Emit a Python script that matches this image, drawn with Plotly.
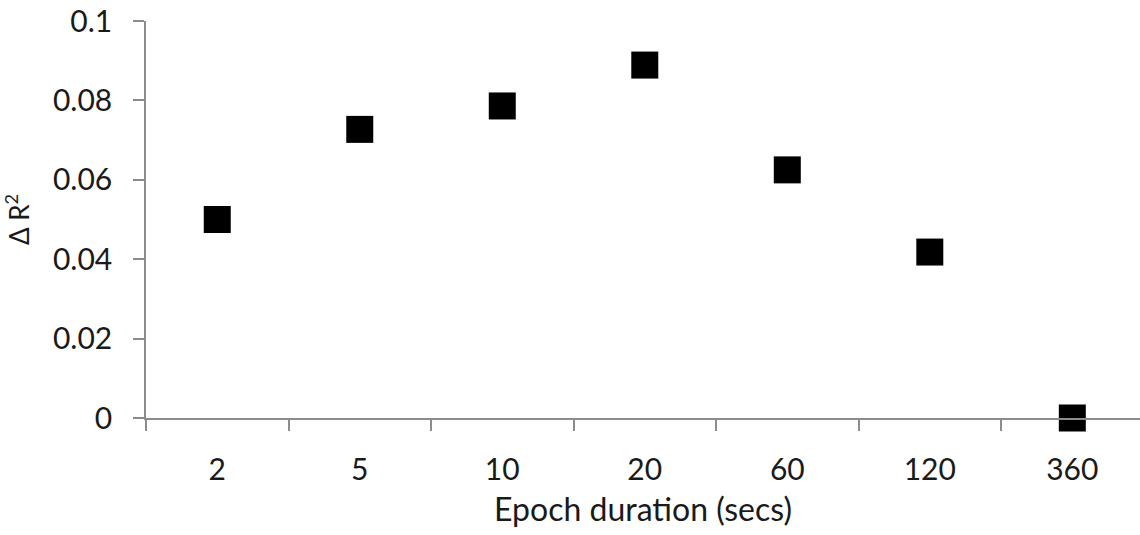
import plotly.graph_objects as go

categories = ["2", "5", "10", "20", "60", "120", "360"]
delta_r2 = [0.050, 0.0727, 0.0786, 0.0889, 0.0625, 0.0418, 0.0]
y_ticks = [0, 0.02, 0.04, 0.06, 0.08, 0.1]
y_tick_labels = ["0", "0.02", "0.04", "0.06", "0.08", "0.1"]

FONT = "Lato, 'Open Sans', sans-serif"
AXIS_COLOR = "#8c8c8c"
TEXT_COLOR = "#1a1a1a"

fig = go.Figure(
    go.Scatter(
        x=categories,
        y=delta_r2,
        mode="markers",
        marker=dict(symbol="square", size=27, color="black",
                    line=dict(width=0)),
        cliponaxis=False,
        showlegend=False,
    )
)

fig.update_layout(
    width=1140,
    height=535,
    autosize=False,
    margin=dict(l=146, r=0, t=21, b=117, pad=0),
    paper_bgcolor="white",
    plot_bgcolor="white",
    font=dict(family=FONT, size=30, color=TEXT_COLOR),
)

fig.update_xaxes(
    type="category",
    range=[-0.5, 6.475],
    showline=True,
    linecolor=AXIS_COLOR,
    linewidth=2,
    showgrid=False,
    zeroline=False,
    ticks="outside",
    tickson="boundaries",
    ticklen=11,
    tickwidth=1.5,
    tickcolor=AXIS_COLOR,
    tickfont=dict(family=FONT, size=30, color=TEXT_COLOR),
    ticklabelstandoff=24,
    automargin=False,
    title=dict(text="Epoch duration (secs)", font=dict(family=FONT, size=32, color=TEXT_COLOR), standoff=14),
)

fig.update_yaxes(
    range=[0, 0.1],
    tickvals=y_ticks,
    ticktext=y_tick_labels,
    showline=True,
    linecolor=AXIS_COLOR,
    linewidth=1.5,
    showgrid=False,
    zeroline=False,
    ticks="outside",
    ticklen=11,
    tickwidth=1.5,
    tickcolor=AXIS_COLOR,
    tickfont=dict(family=FONT, size=30, color=TEXT_COLOR),
    ticklabelstandoff=15,
    ticklabeloverflow="allow",
    automargin=False,
    title=dict(text="Δ\u00a0R<sup>2</sup>", font=dict(family=FONT, size=26, color=TEXT_COLOR), standoff=17),
)

fig.write_html(
    "out.html",
    config={"displayModeBar": False},
    post_script="document.body.style.margin='0';document.body.style.overflow='hidden';",
)
